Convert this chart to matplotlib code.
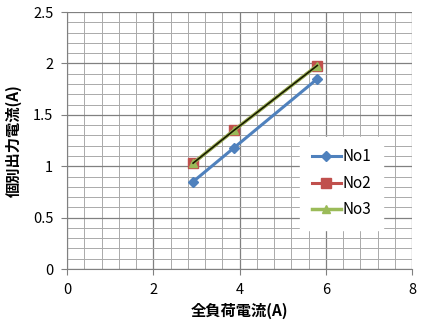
import matplotlib
matplotlib.use('Agg')
from matplotlib import pyplot as plt
from matplotlib.ticker import MultipleLocator

plt.rcParams['font.family'] = ['Noto Sans CJK JP', 'DejaVu Sans']

load = [2.92, 3.87, 5.8]
no1 = [0.85, 1.18, 1.85]
no2 = [1.03, 1.35, 1.98]
no3 = [1.03, 1.35, 1.98]

fig = plt.figure(figsize=(4.28, 3.35), dpi=100)
ax = fig.add_axes([0.157, 0.197, 0.806, 0.767])

ax.plot(load, no1, color='#4F81BD', lw=2.2, marker='D', ms=5, label='No1', zorder=3)
ax.plot(load, no2, color='#C0504D', lw=2.2, marker='s', ms=7, label='No2', zorder=3)
ax.plot(load, no3, color='#9BBB59', lw=2.5, marker='^', ms=6, label='No3', zorder=4)
ax.plot(load, no3, color='#1a1a00', lw=1.2, zorder=5)

ax.set_xlim(0, 8)
ax.set_ylim(0, 2.5)
ax.xaxis.set_major_locator(MultipleLocator(2))
ax.xaxis.set_minor_locator(MultipleLocator(0.4))
ax.yaxis.set_major_locator(MultipleLocator(0.5))
ax.yaxis.set_minor_locator(MultipleLocator(0.1))
ax.set_yticks([0, 0.5, 1, 1.5, 2, 2.5])
ax.set_yticklabels(['0', '0.5', '1', '1.5', '2', '2.5'])
ax.grid(which='major', color='#808080', lw=0.9)
ax.grid(which='minor', color='#aaaaaa', lw=0.7)
ax.set_axisbelow(True)
for s in ['top', 'right']:
    ax.spines[s].set_visible(False)
for s in ['left', 'bottom']:
    ax.spines[s].set_color('#808080')
ax.tick_params(which='major', length=4, color='#808080', labelsize=10.5, pad=6)
ax.tick_params(which='minor', length=0)

ax.set_xlabel('全負荷電流(A)', fontsize=11, fontweight='bold', labelpad=4)
ax.set_ylabel('個別出力電流(A)', fontsize=11, fontweight='bold', labelpad=8)

leg = ax.legend(loc='upper left', bbox_to_anchor=(0.675, 0.514), borderaxespad=0,
                frameon=True, fancybox=False, edgecolor='white', framealpha=1,
                fontsize=11, handlelength=1.9, handletextpad=0.15,
                labelspacing=0.62, borderpad=0.75)

fig.savefig('out.png', dpi=100)
